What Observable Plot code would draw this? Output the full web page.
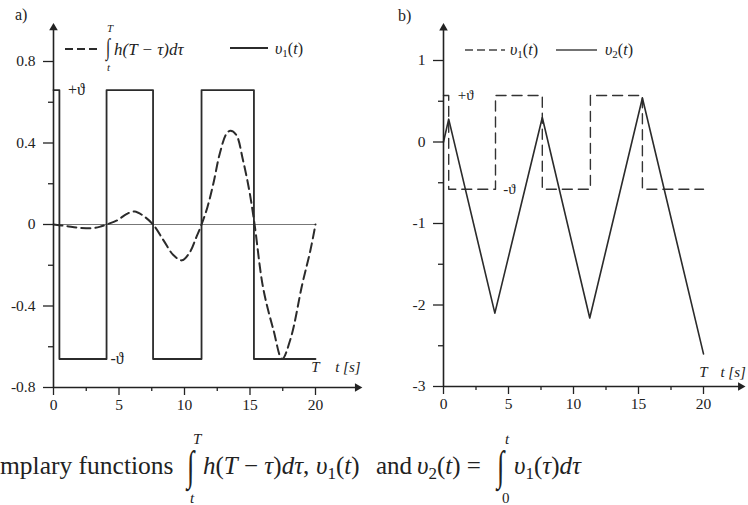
<!DOCTYPE html>
<html>
<head>
<meta charset="utf-8">
<script src="https://cdn.jsdelivr.net/npm/d3@7"></script>
<script src="https://cdn.jsdelivr.net/npm/@observablehq/plot@0.6"></script>
<style>
html, body { margin: 0; padding: 0; background: #fff; overflow: hidden; }
#wrap { position: relative; width: 748px; height: 505px; font-family: "Liberation Serif", "DejaVu Serif", serif; color: #222; }
.panel { position: absolute; top: 0; width: 374px; height: 420px; }
#pa { left: 0; }
#pb { left: 374px; }
#overlay { position: absolute; left: 0; top: 0; pointer-events: none; }
#overlay text { font-family: "Liberation Serif", "DejaVu Serif", serif; fill: #222; }
</style>
</head>
<body>
<div id="wrap">
  <div id="pa" class="panel"></div>
  <div id="pb" class="panel"></div>
  <svg id="overlay" width="748" height="505" xmlns="http://www.w3.org/2000/svg">
    <!-- panel labels -->
    <text x="15" y="20" font-size="16">a)</text>
    <text x="398" y="21" font-size="16">b)</text>
    <!-- legend a -->
    <line x1="65" y1="49" x2="99" y2="49" stroke="#2b2b2b" stroke-width="2" stroke-dasharray="8,4"/>
    <text transform="translate(106,55) scale(0.9,1.4)" font-size="17">∫</text>
    <text x="107" y="32" font-size="11" font-style="italic">T</text>
    <text x="107" y="71" font-size="11" font-style="italic">t</text>
    <text x="114" y="55" font-size="17" font-style="italic">h(T − τ)dτ</text>
    <line x1="230" y1="48" x2="268" y2="48" stroke="#2b2b2b" stroke-width="1.8"/>
    <text x="275" y="54" font-size="16"><tspan font-style="italic">υ</tspan><tspan font-size="11" dy="3">1</tspan><tspan dy="-3">(</tspan><tspan font-style="italic">t</tspan>)</text>
    <!-- legend b -->
    <line x1="465" y1="50" x2="505" y2="50" stroke="#444" stroke-width="1.3" stroke-dasharray="8,4"/>
    <text x="510" y="55" font-size="16"><tspan font-style="italic">υ</tspan><tspan font-size="11" dy="3">1</tspan><tspan dy="-3">(</tspan><tspan font-style="italic">t</tspan>)</text>
    <line x1="556" y1="50" x2="597" y2="50" stroke="#444" stroke-width="1.3"/>
    <text x="605" y="55" font-size="16"><tspan font-style="italic">υ</tspan><tspan font-size="11" dy="3">2</tspan><tspan dy="-3">(</tspan><tspan font-style="italic">t</tspan>)</text>
    <!-- caption -->
    <text x="0" y="474" font-size="25.5">mplary functions</text>
    <text transform="translate(187,480) scale(0.95,1.5)" font-size="28">∫</text>
    <text x="193" y="444" font-size="15" font-style="italic">T</text>
    <text x="190" y="503" font-size="15" font-style="italic">t</text>
    <text x="203" y="474" font-size="25"><tspan font-style="italic">h</tspan>(<tspan font-style="italic">T</tspan> − <tspan font-style="italic">τ</tspan>)<tspan font-style="italic">dτ</tspan>,</text>
    <text x="316" y="474" font-size="25"><tspan font-style="italic">υ</tspan><tspan font-size="17" dy="5">1</tspan><tspan dy="-5">(</tspan><tspan font-style="italic">t</tspan>)</text>
    <text x="376" y="474" font-size="25">and</text>
    <text x="417" y="474" font-size="25"><tspan font-style="italic">υ</tspan><tspan font-size="17" dy="5">2</tspan><tspan dy="-5">(</tspan><tspan font-style="italic">t</tspan>) =</text>
    <text transform="translate(497,480) scale(0.95,1.5)" font-size="28">∫</text>
    <text x="505" y="444" font-size="15" font-style="italic">t</text>
    <text x="502" y="503" font-size="15">0</text>
    <text x="514" y="474" font-size="25"><tspan font-style="italic">υ</tspan><tspan font-size="17" dy="5">1</tspan><tspan dy="-5">(</tspan><tspan font-style="italic">τ</tspan>)<tspan font-style="italic">dτ</tspan></text>
  </svg>
</div>
<script>
// ---------- Panel a data ----------
const tSwitchA = [0, 0.45, 4.05, 7.6, 11.3, 15.3, 20];
const v1LevelA = [0.66, -0.66, 0.66, -0.66, 0.66, -0.66, -0.66];
const tIntA = [0, 1, 2, 3, 3.6, 4.05, 4.85, 5.6, 6.2, 6.8, 7.6, 8.4, 9.15, 9.8, 10.4, 10.9, 11.3, 11.75, 12.2, 12.7, 13.2, 13.5, 13.95, 14.45, 14.95, 15.35, 16.0, 16.8, 17.45, 18.1, 19.0, 19.6, 20];
const intA  = [0, -0.008, -0.016, -0.018, -0.01, 0, 0.02, 0.052, 0.064, 0.045, 0, -0.078, -0.15, -0.176, -0.137, -0.063, 0, 0.085, 0.2, 0.35, 0.445, 0.46, 0.44, 0.32, 0.165, 0, -0.31, -0.52, -0.66, -0.56, -0.29, -0.13, 0];
const yMajorA = [-0.8, -0.4, 0, 0.4, 0.8];
const yMinorA = [-0.6, -0.2, 0.2, 0.6];

// ---------- Panel b data ----------
const tSwitchB = [0, 0.4, 4.0, 7.6, 11.3, 15.3, 20];
const v1LevelB = [0.57, -0.58, 0.57, -0.58, 0.57, -0.58, -0.58];
const tV2 = [0, 0.4, 3.95, 7.6, 11.25, 15.3, 20];
const v2B = [0, 0.28, -2.1, 0.3, -2.16, 0.54, -2.6];
const yMajorB = [-3, -2, -1, 0, 1];
const yMinorB = [-2.5, -1.5, -0.5, 0.5];

// ---------- shared x ticks ----------
const xMajor = [0, 5, 10, 15, 20];
const xMinor = [2.5, 7.5, 12.5, 17.5];

const thetaA = v1LevelA[0];
const thetaB = v1LevelB[0];

const v1A = tSwitchA.map((t, i) => ({t, v: v1LevelA[i]}));
const hA = tIntA.map((t, i) => ({t, v: intA[i]}));
const v1B = tSwitchB.map((t, i) => ({t, v: v1LevelB[i]}));
const v2 = tV2.map((t, i) => ({t, v: v2B[i]}));

const ink = "#2b2b2b";
const style = {fontFamily: "'Liberation Serif', 'DejaVu Serif', serif", fontSize: "15px", color: "#222", background: "transparent", overflow: "visible"};

function axes(yMajor, yMinor) {
  return [
    Plot.axisY({ticks: yMajor, tickSize: 10, tickPadding: 8, tickFormat: d => String(d), label: null, fontSize: 15.5, strokeWidth: 1.3}),
    Plot.axisY({ticks: yMinor, tickSize: 5, fill: "none", label: null, strokeWidth: 1.3}),
    Plot.axisX({ticks: xMajor, tickSize: 8, tickPadding: 3, tickFormat: d => String(d), label: null, fontSize: 15.5, strokeWidth: 1.3}),
    Plot.axisX({ticks: xMinor, tickSize: 4, fill: "none", label: null, strokeWidth: 1.3})
  ];
}

const plotA = Plot.plot({
  width: 374, height: 420,
  marginLeft: 53, marginRight: 59, marginTop: 61, marginBottom: 33,
  x: {domain: [0, 20]},
  y: {domain: [-0.8, 0.8]},
  style,
  marks: [
    Plot.ruleY([0], {x1: -0.76, x2: 20, stroke: "#777", strokeWidth: 1.2}),
    Plot.line(v1A, {x: "t", y: "v", curve: "step-after", stroke: ink, strokeWidth: 1.8}),
    Plot.line(hA, {x: "t", y: "v", curve: "catmull-rom", stroke: ink, strokeWidth: 2, strokeDasharray: "9,5"}),
    Plot.ruleX([0], {y1: -0.8, y2: 0.965, stroke: "#222", strokeWidth: 1.6}),
    Plot.ruleY([-0.8], {x1: 0, x2: 23.2, stroke: "#222", strokeWidth: 1.6}),
    Plot.dot([0], {x: 0, y: 0.965, symbol: "triangle", r: 3.2, fill: "#222", stroke: "none"}),
    Plot.dot([0], {x: 23.2, y: -0.8, symbol: "triangle", r: 3.2, rotate: 90, fill: "#222", stroke: "none"}),
    ...axes(yMajorA, yMinorA),
    Plot.text(["+ϑ"], {x: 1.1, y: thetaA, textAnchor: "start", fontSize: 16}),
    Plot.text(["-ϑ"], {x: 4.35, y: -thetaA, textAnchor: "start", fontSize: 16}),
    Plot.text(["T"], {x: 20, y: -0.8, dy: -20, fontSize: 15, fontStyle: "italic"}),
    Plot.text(["t [s]"], {x: 21.5, y: -0.8, dy: -20, textAnchor: "start", fontSize: 15, fontStyle: "italic"})
  ]
});
document.getElementById("pa").appendChild(plotA);

const plotB = Plot.plot({
  width: 374, height: 420,
  marginLeft: 69, marginRight: 45, marginTop: 60, marginBottom: 34,
  x: {domain: [0, 20]},
  y: {domain: [-3, 1]},
  style,
  marks: [
    Plot.line(v1B, {x: "t", y: "v", curve: "step-after", stroke: "#333", strokeWidth: 1.4, strokeDasharray: "10,6"}),
    Plot.line(v2, {x: "t", y: "v", stroke: ink, strokeWidth: 1.6}),
    Plot.ruleX([0], {y1: -3, y2: 1.4, stroke: "#222", strokeWidth: 1.6}),
    Plot.ruleY([-3], {x1: 0, x2: 22.85, stroke: "#222", strokeWidth: 1.6}),
    Plot.dot([0], {x: 0, y: 1.4, symbol: "triangle", r: 3.2, fill: "#222", stroke: "none"}),
    Plot.dot([0], {x: 22.85, y: -3, symbol: "triangle", r: 3.2, rotate: 90, fill: "#222", stroke: "none"}),
    ...axes(yMajorB, yMinorB),
    Plot.text(["+ϑ"], {x: 1.1, y: thetaB, textAnchor: "start", fontSize: 15}),
    Plot.text(["-ϑ"], {x: 4.6, y: v1LevelB[1], textAnchor: "start", fontSize: 15}),
    Plot.text(["T"], {x: 20, y: -3, dy: -14, fontSize: 15, fontStyle: "italic"}),
    Plot.text(["t [s]"], {x: 21.3, y: -3, dy: -14, textAnchor: "start", fontSize: 15, fontStyle: "italic"})
  ]
});
document.getElementById("pb").appendChild(plotB);
</script>
</body>
</html>
